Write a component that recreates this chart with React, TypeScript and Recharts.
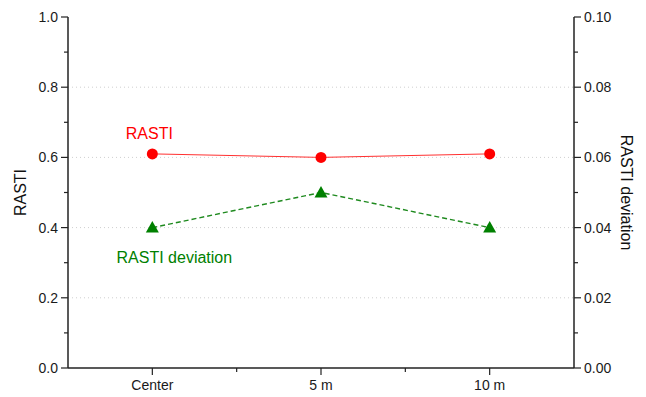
import { CartesianGrid, Line, LineChart, ReferenceLine, XAxis, YAxis } from 'recharts';

const categories = ['Center', '5 m', '10 m'];
const rasti = [0.61, 0.6, 0.61];
const rastiDeviation = [0.04, 0.05, 0.04];

const leftTicks = [0, 0.1, 0.2, 0.3, 0.4, 0.5, 0.6, 0.7, 0.8, 0.9, 1.0];
const rightTicks = [0, 0.01, 0.02, 0.03, 0.04, 0.05, 0.06, 0.07, 0.08, 0.09, 0.1];
const gridValues = [0.2, 0.4, 0.6, 0.8];

const data = categories.map((name, i) => ({ name, rasti: rasti[i], dev: rastiDeviation[i] }));

const W = 646;
const H = 397;
const LEFT_W = 68;
const RIGHT_W = 72;
const TOP = 17;
const BOTTOM_H = 29;
const bandW = (W - LEFT_W - RIGHT_W) / categories.length;
const pad = { left: bandW / 2, right: bandW / 2 };

const FONT = '"Liberation Sans", Arial, sans-serif';
const AXIS = '#222';
const TICK_FS = 14;

const isMajor = (v: number, step: number) => Math.round(v / step) % 2 === 0;

const LeftTick = ({ x, y, payload }: any) => {
  const major = isMajor(payload.value, 0.1);
  return (
    <g>
      <line x1={x} x2={x - (major ? 7 : 4)} y1={y} y2={y} stroke={AXIS} strokeWidth={1.2} />
      {major && (
        <text x={x - 10} y={y + 5} textAnchor="end" fontSize={TICK_FS} fill="#1a1a1a" fontFamily={FONT}>
          {payload.value.toFixed(1)}
        </text>
      )}
    </g>
  );
};

const RightTick = ({ x, y, payload }: any) => {
  const major = isMajor(payload.value, 0.01);
  return (
    <g>
      <line x1={x} x2={x + (major ? 7 : 4)} y1={y} y2={y} stroke={AXIS} strokeWidth={1.2} />
      {major && (
        <text x={x + 10} y={y + 5} textAnchor="start" fontSize={TICK_FS} fill="#1a1a1a" fontFamily={FONT}>
          {payload.value.toFixed(2)}
        </text>
      )}
    </g>
  );
};

const BottomTick = ({ x, y, payload, index }: any) => (
  <g>
    <line x1={x} x2={x} y1={y} y2={y + 7} stroke={AXIS} strokeWidth={1.2} />
    {index < categories.length - 1 && (
      <line x1={x + bandW / 2} x2={x + bandW / 2} y1={y} y2={y + 4} stroke={AXIS} strokeWidth={1.2} />
    )}
    <text x={x} y={y + 22} textAnchor="middle" fontSize={TICK_FS} fill="#1a1a1a" fontFamily={FONT}>
      {payload.value}
    </text>
  </g>
);

const TopTick = ({ x, y, index }: any) => (
  <g>
    <line x1={x} x2={x} y1={y} y2={y + 7} stroke={AXIS} strokeWidth={1.2} />
    {index < categories.length - 1 && (
      <line x1={x + bandW / 2} x2={x + bandW / 2} y1={y} y2={y + 4} stroke={AXIS} strokeWidth={1.2} />
    )}
  </g>
);

const CircleDot = ({ cx, cy }: any) => <circle cx={cx} cy={cy} r={5.5} fill="#ff0000" stroke="none" />;

const TriangleDot = ({ cx, cy }: any) => (
  <path d={`M${cx},${cy - 6.5} L${cx + 6.5},${cy + 5} L${cx - 6.5},${cy + 5} Z`} fill="#008000" />
);

const RastiLabel = ({ x, y, index }: any) =>
  index === 0 ? (
    <text x={x - 3} y={y - 15} textAnchor="middle" fontSize={16} fill="#ff0000" fontFamily={FONT}>
      RASTI
    </text>
  ) : null;

const DevLabel = ({ x, y, index }: any) =>
  index === 0 ? (
    <text x={x + 22} y={y + 35} textAnchor="middle" fontSize={16} fill="#008000" fontFamily={FONT}>
      RASTI deviation
    </text>
  ) : null;

export default function App() {
  return (
    <div style={{ position: 'absolute', left: 0, top: 0, width: W, height: H, background: '#fff' }}>
      <LineChart width={W} height={H} data={data} margin={{ top: TOP, right: 0, bottom: 0, left: 0 }}>
        <CartesianGrid horizontal={false} vertical={false} />
        <XAxis
          dataKey="name"
          xAxisId="bottom"
          height={BOTTOM_H}
          padding={pad}
          tickSize={0}
          tickMargin={0}
          tickLine={false}
          tick={<BottomTick />}
          axisLine={{ stroke: AXIS, strokeWidth: 1.5 }}
          interval={0}
        />
        <XAxis
          dataKey="name"
          xAxisId="top"
          orientation="top"
          height={0}
          padding={pad}
          tickSize={0}
          tickMargin={0}
          tickLine={false}
          tick={<TopTick />}
          axisLine={{ stroke: AXIS, strokeWidth: 1.5 }}
          interval={0}
        />
        <YAxis
          yAxisId="left"
          domain={[0, 1]}
          ticks={leftTicks}
          width={LEFT_W}
          tickSize={0}
          tickMargin={0}
          tickLine={false}
          tick={<LeftTick />}
          axisLine={{ stroke: AXIS, strokeWidth: 1.5 }}
          interval={0}
          label={{
            value: 'RASTI',
            angle: -90,
            position: 'insideLeft',
            offset: 20,
            style: { fontSize: 16, fill: '#111', fontFamily: FONT, textAnchor: 'middle' },
          }}
        />
        <YAxis
          yAxisId="right"
          orientation="right"
          domain={[0, 0.1]}
          ticks={rightTicks}
          width={RIGHT_W}
          tickSize={0}
          tickMargin={0}
          tickLine={false}
          tick={<RightTick />}
          axisLine={{ stroke: AXIS, strokeWidth: 1.5 }}
          interval={0}
          label={{
            value: 'RASTI deviation',
            angle: 90,
            position: 'insideRight',
            offset: 19,
            style: { fontSize: 16, fill: '#111', fontFamily: FONT, textAnchor: 'middle' },
          }}
        />
        {gridValues.map((v) => (
          <ReferenceLine
            key={v}
            y={v}
            yAxisId="left"
            xAxisId="bottom"
            stroke="#cfcfcf"
            strokeDasharray="1 3"
          />
        ))}
        <Line
          xAxisId="bottom"
          yAxisId="left"
          dataKey="rasti"
          stroke="#ff3030"
          strokeWidth={1}
          dot={<CircleDot />}
          activeDot={false}
          label={<RastiLabel />}
          isAnimationActive={false}
        />
        <Line
          xAxisId="bottom"
          yAxisId="right"
          dataKey="dev"
          stroke="#1f8a1f"
          strokeWidth={1.4}
          strokeDasharray="5 3"
          dot={<TriangleDot />}
          activeDot={false}
          label={<DevLabel />}
          isAnimationActive={false}
        />
      </LineChart>
    </div>
  );
}
